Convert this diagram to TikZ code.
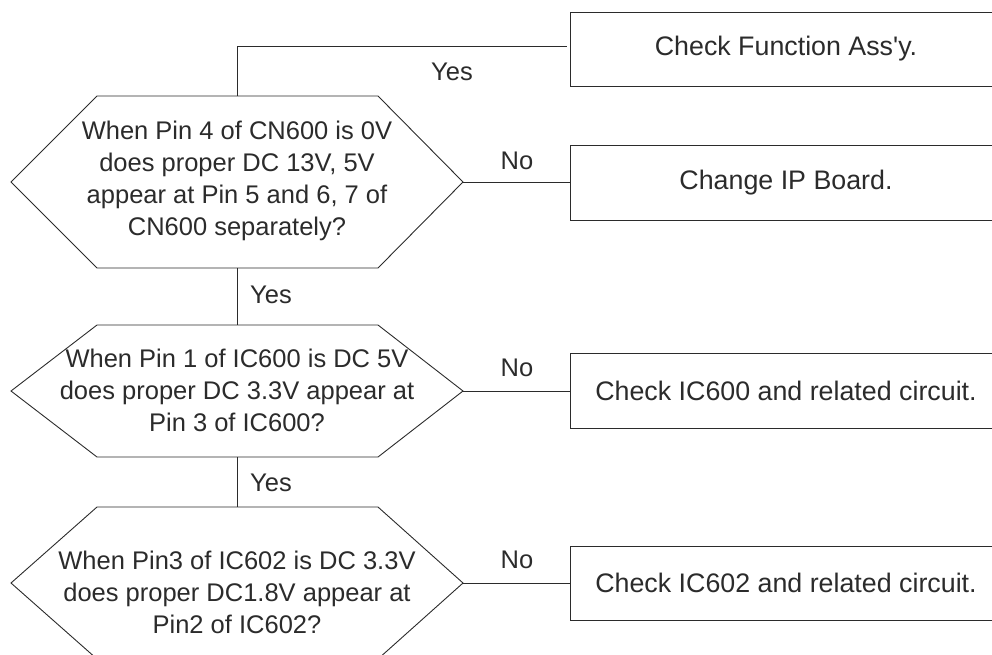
\documentclass[tikz,border=0pt]{standalone}
\usepackage{fontspec}
\setmainfont{Liberation Sans}
\definecolor{ink}{HTML}{2B2B2B}
\begin{document}
\begin{tikzpicture}[x=1pt,y=-1pt,
  line width=0.9pt, draw=ink,
  every node/.style={text=ink},
  qtext/.style={align=center, font=\fontsize{25.5}{32}\selectfont, inner sep=0pt},
  actbox/.style={draw=ink, line width=0.9pt, rectangle, minimum width=432pt, minimum height=74pt, inner sep=0pt, font=\fontsize{26.8}{32}\selectfont},
  lbl/.style={font=\fontsize{25.5}{30}\selectfont, inner sep=0pt}]
\useasboundingbox (0,0) rectangle (992,654);
% hexagon 1
\coordinate (h1w) at (11,182);
\coordinate (h1e) at (463,182);
\coordinate (h1n) at (237,96);
\coordinate (h1s) at (237,268);
\draw (h1w) -- (97,96) -- (378,96) -- (h1e) -- (378,268) -- (97,268) -- cycle;
\node[qtext] (q1) at (237,181) {When Pin 4 of CN600 is 0V\\does proper DC 13V, 5V\\appear at Pin 5 and 6, 7 of\\CN600 separately?};
% hexagon 2
\coordinate (h2w) at (11,391);
\coordinate (h2e) at (463,391);
\coordinate (h2n) at (237,325);
\coordinate (h2s) at (237,457);
\draw (h2w) -- (97,325) -- (378,325) -- (h2e) -- (378,457) -- (97,457) -- cycle;
\node[qtext] (q2) at (237,390) {When Pin 1 of IC600 is DC 5V\\does proper DC 3.3V appear at\\Pin 3 of IC600?};
% hexagon 3
\coordinate (h3w) at (11,583);
\coordinate (h3e) at (463,583);
\coordinate (h3n) at (237,507);
\draw (h3w) -- (97,507) -- (378,507) -- (h3e) -- (378,659) -- (97,659) -- cycle;
\node[qtext] (q3) at (237,592) {When Pin3 of IC602 is DC 3.3V\\does proper DC1.8V appear at\\Pin2 of IC602?};
% boxes
\node[actbox] (b1) at (786,49) {Check Function Ass\textquotesingle y.};
\node[actbox, minimum height=75pt] (b2) at (786,182.5) {Change IP Board.};
\node[actbox, minimum height=75pt] (b3) at (786,390.5) {Check IC600 and related circuit.};
\node[actbox] (b4) at (786,583) {Check IC602 and related circuit.};
% connectors
\coordinate (c1) at (567,46);
\draw (h1n) |- (c1);
\draw (h1e) -- (h1e -| b2.west);
\draw (h1s) -- (h2n);
\draw (h2e) -- (h2e -| b3.west);
\draw (h2s) -- (h3n);
\draw (h3e) -- (h3e -| b4.west);
% labels
\node[lbl] (y1) at (452,72) {Yes};
\node[lbl] (y2) at (271,295) {Yes};
\node[lbl] (y3) at (271,483) {Yes};
\node[lbl] (n1) at (517,161) {No};
\node[lbl] (n2) at (517,368) {No};
\node[lbl] (n3) at (517,560) {No};
\end{tikzpicture}
\end{document}
